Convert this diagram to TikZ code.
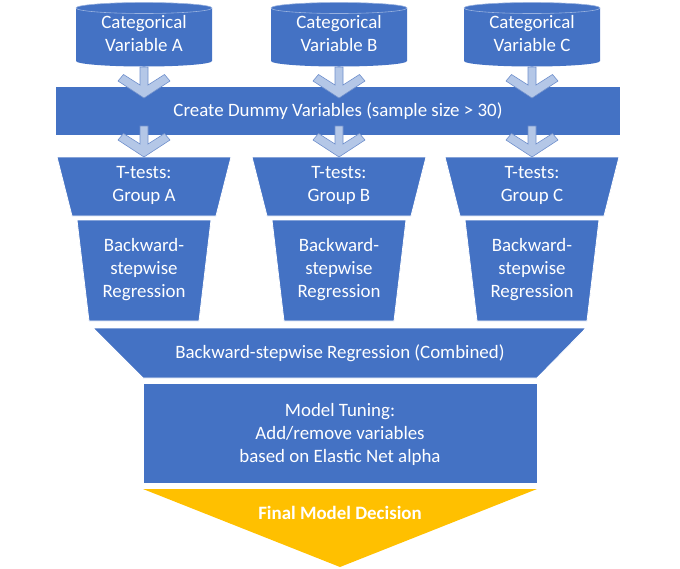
\documentclass[tikz,border=0pt]{standalone}
\usepackage{fontspec}
\setmainfont{Carlito}
\usetikzlibrary{calc}
\definecolor{shapeblue}{HTML}{4472C4}
\definecolor{arrowfill}{HTML}{B4C7E7}
\definecolor{arrowedge}{HTML}{6F8FCC}
\definecolor{decisionyellow}{HTML}{FFC000}

\begin{document}
\begin{tikzpicture}[x=1pt, y=-1pt,
  box/.style={fill=shapeblue, draw=white, line width=0.8pt},
  lbl/.style={text=white, align=center, inner sep=0pt, font=\fontsize{18.9}{23}\selectfont},
  blockarrow/.style={fill=arrowfill, draw=arrowedge, line width=0.6pt, line join=miter}]
  \useasboundingbox (0,0) rectangle (680,568);

  % 中间的长条
  \draw[box] (55,86) rectangle (620,135);
  \node[lbl] (dummy) at (338,111) {Create Dummy Variables (sample size > 30)};

  % 三列：圆柱 -> T 检验 -> 逐步回归
  \foreach \cx/\g in {144/A, 339/B, 532/C} {
    \fill[shapeblue] (\cx-68,8) -- (\cx-68,61)
      arc[start angle=180, end angle=360, x radius=68pt, y radius=5.5pt]
      -- (\cx+68,8)
      arc[start angle=0, end angle=180, x radius=68pt, y radius=5.5pt] -- cycle;
    \draw[shapeblue!55!white, line width=0.6pt] (\cx,8) ellipse[x radius=68pt, y radius=5.5pt];
    \node[lbl] (cat\g) at (\cx,34) {Categorical\\Variable \g};

    \draw[box] (\cx-87,157) -- (\cx+87,157) -- (\cx+72,216) -- (\cx-72,216) -- cycle;
    \node[lbl] (ttest\g) at (\cx,185) {T-tests:\\Group \g};

    \draw[box] (\cx-67,220) -- (\cx+67,220) -- (\cx+55,321) -- (\cx-55,321) -- cycle;
    \node[lbl] (back\g) at (\cx,270) {Backward-\\stepwise\\Regression};

    % 箭头（盖在矩形上）
    \draw[blockarrow, shift={(\cx,67)}] (-4,0) -- (4,0) -- (4,18) -- (20.5,7.5) -- (26,14)
      -- (0,31) -- (-26,14) -- (-20.5,7.5) -- (-4,18) -- cycle;
    \draw[blockarrow, shift={(\cx,126)}] (-4,0) -- (4,0) -- (4,18) -- (20.5,7.5) -- (26,14)
      -- (0,31) -- (-26,14) -- (-20.5,7.5) -- (-4,18) -- cycle;
  }

  % 合并后的部分
  \draw[box] (93,328) -- (586,328) -- (537,378) -- (143,378) -- cycle;
  \node[lbl] (combined) at (340,353) {Backward-stepwise Regression (Combined)};

  \draw[box] (143,383) rectangle (537,483);
  \node[lbl] (tuning) at (340,434) {Model Tuning:\\Add/remove variables\\based on Elastic Net alpha};

  \fill[decisionyellow] (143,489) -- (537,489) -- (340,567) -- cycle;
  \node[lbl, font=\fontsize{18.9}{23}\selectfont\bfseries] (final) at (340,513) {Final Model Decision};
\end{tikzpicture}
\end{document}
